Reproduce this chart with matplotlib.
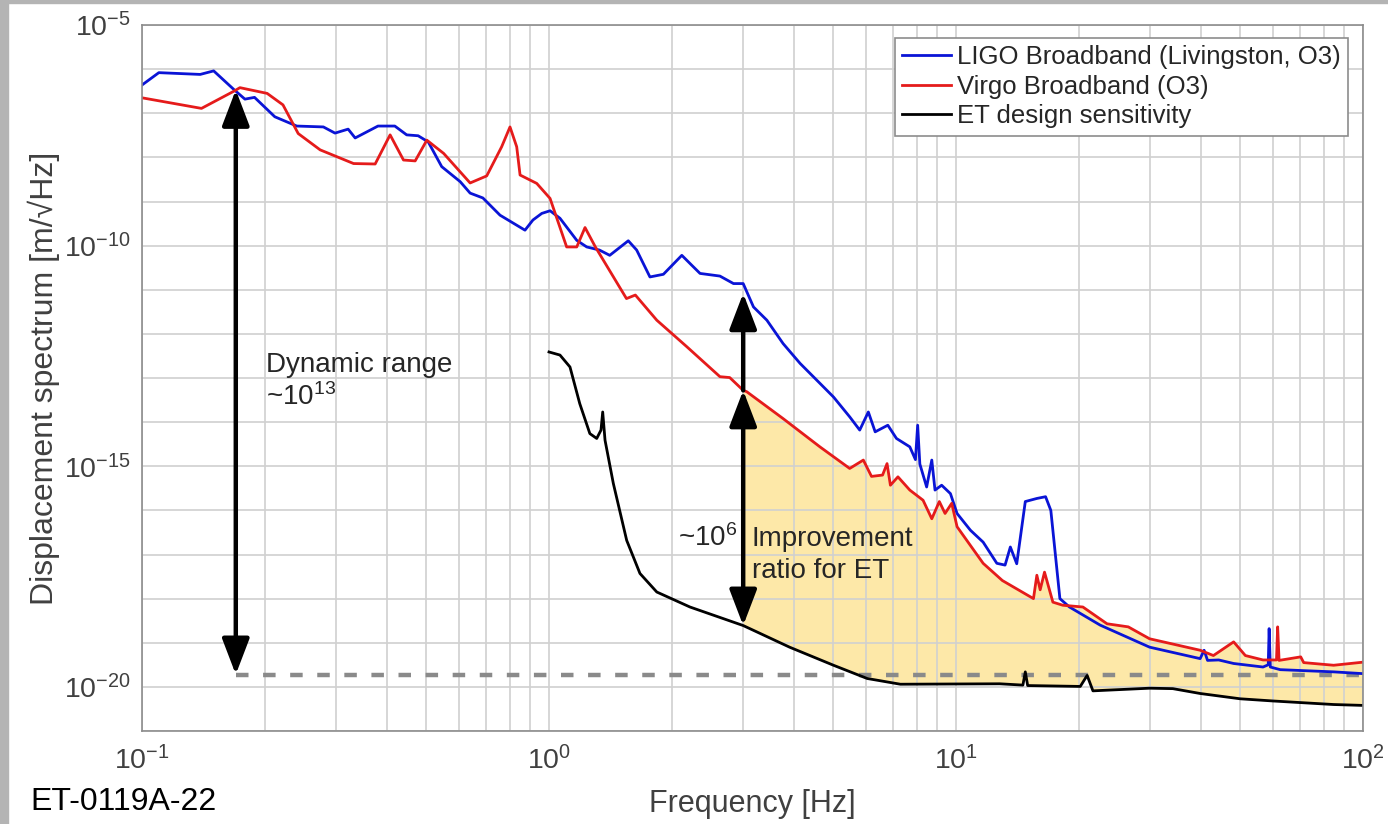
import numpy as np
import matplotlib
matplotlib.use('Agg')
import matplotlib.pyplot as plt
from matplotlib.patches import Rectangle
from matplotlib.ticker import NullLocator, NullFormatter

plt.rcParams['font.family'] = ['Liberation Sans', 'DejaVu Sans']
plt.rcParams['mathtext.fontset'] = 'custom'
plt.rcParams['mathtext.rm'] = 'Liberation Sans'
plt.rcParams['mathtext.it'] = 'Liberation Sans:italic'
plt.rcParams['mathtext.bf'] = 'Liberation Sans:bold'
plt.rcParams['lines.scale_dashes'] = False

# LIGO Livingston O3 broadband (freq in Hz, log10 of displacement)
ligo_f = [0.100, 0.110, 0.139, 0.150, 0.169, 0.179, 0.189, 0.212, 0.240, 0.279,
          0.298, 0.321, 0.334, 0.380, 0.418, 0.447, 0.477, 0.505, 0.545, 0.605,
          0.640, 0.688, 0.758, 0.873, 0.913, 0.960, 1.006, 1.064, 1.17, 1.238,
          1.33, 1.41, 1.566, 1.642, 1.77, 1.91, 2.12, 2.24, 2.35, 2.63,
          2.84, 3.0, 3.18, 3.43, 3.76, 4.14, 4.63, 5.0, 5.48, 5.8,
          6.09, 6.33, 6.8, 7.14, 7.7, 7.95, 8.05, 8.15, 8.47, 8.72,
          8.88, 9.22, 9.69, 10.06, 10.85, 11.66, 12.6, 13.2, 13.6, 14.1,
          14.8, 15.8, 16.6, 17.1, 18.0, 19.0, 22.6, 29.9, 39.8, 40.7,
          41.5, 44.2, 48.1, 56.8, 58.5, 58.8, 59.2, 62.6, 84.7, 100.0]
ligo_log10 = [-6.36, -6.08, -6.12, -6.04, -6.48, -6.68, -6.64, -7.08, -7.29, -7.31,
              -7.45, -7.36, -7.56, -7.29, -7.29, -7.49, -7.51, -7.65, -8.21, -8.55,
              -8.81, -8.92, -9.31, -9.65, -9.42, -9.27, -9.21, -9.38, -9.88, -10.03,
              -10.10, -10.22, -9.89, -10.10, -10.71, -10.65, -10.22, -10.44, -10.63, -10.69,
              -10.86, -10.86, -11.39, -11.69, -12.22, -12.67, -13.12, -13.43, -13.88, -14.18,
              -13.77, -14.22, -14.07, -14.37, -14.56, -14.85, -14.07, -14.95, -15.47, -14.86,
              -15.54, -15.43, -15.62, -16.07, -16.45, -16.72, -17.20, -17.24, -16.83, -17.21,
              -15.80, -15.73, -15.69, -16.00, -18.00, -18.19, -18.60, -19.10, -19.36, -19.17,
              -19.40, -19.39, -19.47, -19.55, -19.50, -18.68, -19.55, -19.61, -19.66, -19.70]

# Virgo O3 broadband
virgo_f = [0.100, 0.140, 0.169, 0.174, 0.203, 0.222, 0.242, 0.274, 0.331, 0.374,
           0.407, 0.439, 0.469, 0.501, 0.551, 0.640, 0.703, 0.765, 0.802, 0.833,
           0.849, 0.933, 1.006, 1.105, 1.17, 1.226, 1.30, 1.55, 1.63, 1.84,
           2.18, 2.63, 2.78, 3.0, 3.06, 3.76, 4.63, 5.48, 5.92, 6.2,
           6.6, 6.77, 6.9, 7.2, 7.7, 8.3, 8.72, 9.1, 9.4, 9.76,
           10.06, 11.66, 13.0, 15.5, 15.8, 16.1, 16.5, 17.3, 18.3, 20.5,
           23.5, 26.5, 29.9, 39.8, 42.9, 48.1, 51.4, 56.8, 61.3, 61.7,
           62.2, 70.3, 71.5, 84.7, 100.0]
virgo_log10 = [-6.65, -6.89, -6.49, -6.42, -6.55, -6.81, -7.46, -7.83, -8.14, -8.15,
               -7.49, -8.06, -8.08, -7.61, -7.91, -8.58, -8.42, -7.76, -7.31, -7.76,
               -8.40, -8.59, -8.93, -10.03, -10.03, -9.59, -10.03, -11.20, -11.12, -11.69,
               -12.29, -12.97, -12.99, -13.28, -13.31, -13.92, -14.56, -15.05, -14.86, -15.23,
               -15.20, -14.94, -15.43, -15.24, -15.54, -15.77, -16.19, -15.80, -16.07, -15.84,
               -16.37, -17.20, -17.59, -18.00, -17.47, -17.80, -17.40, -18.08, -18.15, -18.19,
               -18.57, -18.64, -18.91, -19.17, -19.29, -18.98, -19.29, -19.39, -19.39, -18.64,
               -19.40, -19.32, -19.45, -19.51, -19.44]

# ET design sensitivity
et_f = [1.0, 1.064, 1.126, 1.19, 1.26, 1.31, 1.342, 1.355, 1.373, 1.439,
        1.552, 1.673, 1.84, 2.22, 3.0, 3.9, 5.0, 6.05, 7.3, 12.8,
        14.6, 14.8, 15.0, 20.2, 21.0, 21.7, 29.9, 34.1, 39.8, 49.9,
        60.2, 84.7, 100.0]
et_log10 = [-12.41, -12.48, -12.75, -13.58, -14.26, -14.37, -14.18, -13.77, -14.41, -15.39,
            -16.68, -17.43, -17.85, -18.19, -18.61, -19.10, -19.51, -19.81, -19.94, -19.93,
            -19.96, -19.66, -19.97, -19.99, -19.74, -20.09, -20.03, -20.04, -20.15, -20.27,
            -20.32, -20.40, -20.42]

labels = ['LIGO Broadband (Livingston, O3)', 'Virgo Broadband (O3)', 'ET design sensitivity']

floor_level = 10 ** -19.72      # dashed reference floor
dyn_f = 0.170                   # dynamic range arrow position
dyn_top = 10 ** -6.47
impr_f = 3.0                    # improvement arrows position
impr_blue = 10 ** -11.08
impr_red = 10 ** -13.28
impr_et = 10 ** -18.61

ligo_f = np.array(ligo_f); ligo_v = 10.0 ** np.array(ligo_log10)
virgo_f = np.array(virgo_f); virgo_v = 10.0 ** np.array(virgo_log10)
et_f = np.array(et_f); et_v = 10.0 ** np.array(et_log10)

fig = plt.figure(figsize=(13.88, 8.24), dpi=100)
ax = fig.add_axes([142 / 1388, 1 - 731 / 824, 1221 / 1388, 706 / 824])
ax.set_xscale('log')
ax.set_yscale('log')
ax.set_xlim(0.1, 100)
ax.set_ylim(1e-21, 1e-5)

# yellow improvement area between Virgo and ET above 3 Hz
mr = virgo_f >= impr_f
me = et_f >= impr_f
poly_x = np.concatenate([virgo_f[mr], et_f[me][::-1]])
poly_y = np.concatenate([virgo_v[mr], et_v[me][::-1]])
ax.fill(poly_x, poly_y, color='#fde8a8', lw=0, zorder=0.3)

ax.plot([dyn_f, 100], [floor_level, floor_level], color='#8a8a8a', lw=3.2,
        dashes=(9, 10.5), zorder=1.5)

l1, = ax.plot(ligo_f, ligo_v, color='#0a14d6', lw=2.0, zorder=2)
l2, = ax.plot(virgo_f, virgo_v, color='#e51b1b', lw=2.0, zorder=2.1)
l3, = ax.plot(et_f, et_v, color='black', lw=2.0, zorder=2.2)

arrow_style = dict(color='black', lw=3.2, shrinkA=0, shrinkB=0, mutation_scale=20)
ax.annotate('', xy=(dyn_f, dyn_top), xytext=(dyn_f, floor_level),
            arrowprops=dict(arrowstyle='<|-|>,head_length=1.1,head_width=0.42', **arrow_style),
            zorder=3)
ax.annotate('', xy=(impr_f, impr_blue), xytext=(impr_f, impr_red),
            arrowprops=dict(arrowstyle='-|>,head_length=1.1,head_width=0.42', **arrow_style),
            zorder=3)
ax.annotate('', xy=(impr_f, impr_red), xytext=(impr_f, impr_et),
            arrowprops=dict(arrowstyle='<|-|>,head_length=1.1,head_width=0.42', **arrow_style),
            zorder=3)

txt_kw = dict(fontsize=20, color='#262626', va='baseline', zorder=4)
ax.text(0.2017, 10 ** -12.87, 'Dynamic range', ha='left', **txt_kw)
ax.text(0.2017, 10 ** -13.62, r'~10$^{13}$', ha='left', **txt_kw)
ax.text(2.91, 10 ** -16.81, r'~10$^{6}$', ha='right', **txt_kw)
ax.text(3.15, 10 ** -16.81, 'Improvement', ha='left', **txt_kw)
ax.text(3.15, 10 ** -17.54, 'ratio for ET', ha='left', **txt_kw)

# ticks and grid
ax.set_xticks([0.1, 1, 10, 100])
ax.set_xticklabels([r'$10^{-1}$', r'$10^{0}$', r'$10^{1}$', r'$10^{2}$'])
ydec = [10.0 ** k for k in range(-21, -4)]
ax.set_yticks(ydec)
ax.set_yticklabels([r'$10^{%d}$' % k if k % 5 == 0 else '' for k in range(-21, -4)])
ax.yaxis.set_minor_locator(NullLocator())
ax.xaxis.set_minor_formatter(NullFormatter())
ax.tick_params(which='both', length=0, labelsize=20.5, colors='#404040')
ax.tick_params(axis='x', pad=11)
ax.tick_params(axis='y', pad=8)
ax.set_axisbelow(True)
ax.grid(True, which='both', color='#d0d0d0', lw=1.2)
for s in ax.spines.values():
    s.set_color('#8c8c8c')
    s.set_linewidth(1.2)

ax.set_xlabel('Frequency [Hz]', fontsize=22, color='#404040')
ax.xaxis.set_label_coords(0.5, -0.082)
ax.set_ylabel('Displacement spectrum [m/\u221aHz]', fontsize=23, color='#404040')
ax.yaxis.set_label_coords(-0.067, 0.5)

leg = ax.legend([l1, l2, l3], labels, loc='upper right', bbox_to_anchor=(0.9877, 0.9816),
                borderaxespad=0, fontsize=18.5, fancybox=False, framealpha=1,
                edgecolor='#8c8c8c', handlelength=1.9, handletextpad=0.25,
                labelspacing=0.22, borderpad=0.28)
leg.get_frame().set_linewidth(1.2)
for t in leg.get_texts():
    t.set_color('#262626')

fig.text(30 / 1388, 1 - 810 / 824, 'ET-0119A-22', fontsize=23, color='black',
         ha='left', va='baseline')

# grey frame of the original screenshot
fig.patches.append(Rectangle((0, 0), 8 / 1388, 1, transform=fig.transFigure,
                             color='#b4b4b4', zorder=0))
fig.patches.append(Rectangle((0, 1 - 2.5 / 824), 1, 2.5 / 824, transform=fig.transFigure,
                             color='#b4b4b4', zorder=0))

fig.savefig('out.png', dpi=100)
